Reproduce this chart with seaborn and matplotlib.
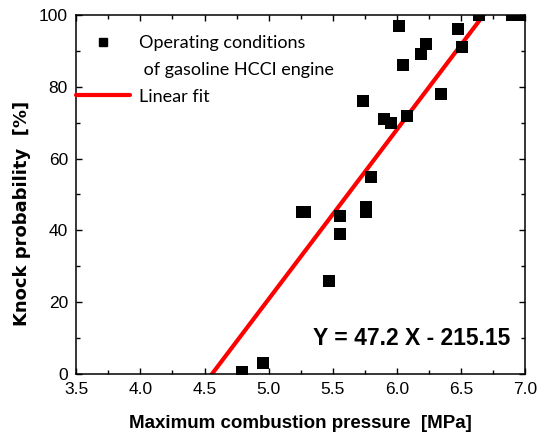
import numpy as np
import pandas as pd
import matplotlib
matplotlib.use("Agg")
import matplotlib.pyplot as plt
import seaborn as sns
from matplotlib.lines import Line2D
from matplotlib.ticker import MultipleLocator

# ---- data ----
pressure = [4.79, 4.96, 5.26, 5.28, 5.47, 5.56, 5.56, 5.76, 5.76, 5.80, 5.74,
            5.90, 5.955, 6.08, 6.02, 6.05, 6.19, 6.23, 6.345, 6.475, 6.51,
            6.64, 6.90, 6.97]
knock_prob = [0.5, 3, 45, 45, 26, 44, 39, 45, 46.5, 55, 76,
              71, 70, 72, 97, 86, 89, 92, 78, 96, 91,
              100, 100, 100]
slope = 47.2
intercept = -215.15
x_ticks = [3.5, 4.0, 4.5, 5.0, 5.5, 6.0, 6.5, 7.0]
y_ticks = [0, 20, 40, 60, 80, 100]
legend_labels = ["Operating conditions", " of gasoline HCCI engine", "Linear fit"]
eq_text = "Y = 47.2 X - 215.15"
x_label = "Maximum combustion pressure  [MPa]"
y_label = "Knock probability  [%]"

sns.set_style("ticks")
plt.rcParams['font.family'] = ['Liberation Sans', 'DejaVu Sans']
for k in ["text.color", "axes.labelcolor", "xtick.color", "ytick.color", "axes.edgecolor"]:
    plt.rcParams[k] = "black"

fig = plt.figure(figsize=(5.47, 4.36), dpi=100)
ax = fig.add_axes([0.1395, 0.1422, 0.8203, 0.8234])

df = pd.DataFrame({"p": pressure, "k": knock_prob})
sns.scatterplot(data=df, x="p", y="k", marker="s", s=76, color="black",
                edgecolor="black", linewidth=0, ax=ax, zorder=3, legend=False)

fit_x = np.linspace(x_ticks[0], x_ticks[-1], 200)
fit_df = pd.DataFrame({"x": fit_x, "y": slope * fit_x + intercept})
sns.lineplot(data=fit_df, x="x", y="y", color="#ff0000", linewidth=3,
             ax=ax, zorder=2, legend=False)

ax.set_xlim(x_ticks[0], x_ticks[-1])
ax.set_ylim(y_ticks[0], y_ticks[-1])
ax.set_xticks(x_ticks)
ax.set_yticks(y_ticks)
ax.set_xticklabels([f"{v:.1f}" for v in x_ticks])
ax.xaxis.set_minor_locator(MultipleLocator(0.25))
ax.yaxis.set_minor_locator(MultipleLocator(10))
ax.tick_params(which="both", direction="in", top=True, right=True,
               labelsize=12.5, width=1, colors="black")
ax.tick_params(which="major", length=4, pad=6)
ax.tick_params(which="minor", length=3)
for s in ax.spines.values():
    s.set_linewidth(1.1)
    s.set_color("black")

ax.set_xlabel(x_label, fontsize=13.5, fontweight="bold")
ax.xaxis.set_label_coords(0.5, -0.115)
ax.set_ylabel(y_label, fontsize=13, fontweight="bold", family=["DejaVu Sans"])
ax.yaxis.set_label_coords(-0.10, 0.448)

handles = [
    Line2D([], [], marker="s", linestyle="none", color="black", markersize=5.5),
    Line2D([], [], linestyle="none"),
    Line2D([], [], color="#ff0000", linewidth=3),
]
ax.legend(handles, legend_labels, loc="upper left",
          bbox_to_anchor=(0.0, 0.944), frameon=False, borderaxespad=0,
          borderpad=0, handlelength=3.0, handletextpad=0.45, labelspacing=0.6,
          prop={"family": ["Lato", "DejaVu Sans"], "size": 13})

ax.text(0.9666, 0.098, eq_text, transform=ax.transAxes, ha="right",
        va="center", fontsize=16.5, fontweight="bold")

fig.savefig("out.png", dpi=100)
